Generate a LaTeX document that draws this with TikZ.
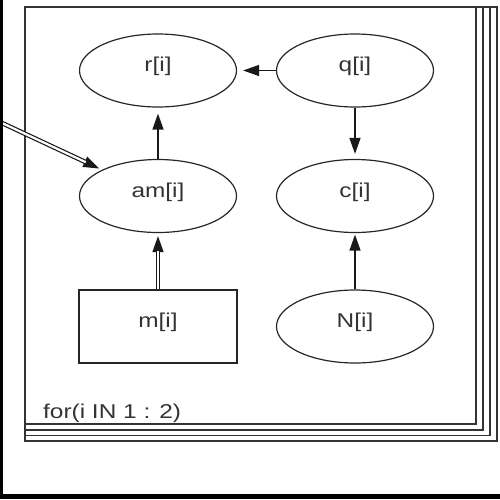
\documentclass[tikz,border=0pt]{standalone}
\usepackage{fontspec}
\newfontfamily\guifont[FakeStretch=1.22]{Liberation Sans}
\usetikzlibrary{arrows.meta,shapes.geometric}
\begin{document}
\begin{tikzpicture}[x=1pt,y=-1pt,
  ink/.style={draw=black!85},
  nodetext/.style={font=\guifont\fontsize{20}{23}\selectfont, text=black!80},
  varnode/.style={ellipse, ink, nodetext, line width=1.2pt, minimum width=157pt,
    minimum height=73pt, inner sep=0pt, text height=14pt, text depth=12pt},
  datanode/.style={rectangle, ink, nodetext, line width=1.2pt, minimum width=158pt,
    minimum height=73pt, inner sep=0pt, text height=14pt, text depth=12pt},
  platebox/.style={draw=black!80, line width=1.2pt},
  arr/.style={draw=black!90, line width=1.3pt, -{Triangle[length=16pt,width=11pt]}},
  dbl/.style={draw=black!90, line width=1.2pt, double=white, double distance=2.2pt},
]
\useasboundingbox (0,0) rectangle (500,499);

% stacked plate outline
\draw[platebox] (25,7) rectangle (497,441);
\draw[platebox] (25,7) rectangle (490,435.5);
\draw[platebox] (25,7) rectangle (483,430);
\draw[platebox] (25,7) rectangle (476,424);
\node[nodetext, anchor=base west, inner sep=0pt] (platelabel) at (43,418) {for(i IN 1 : 2)};

% variables
\node[varnode] (r)  at (158,70.5)  {r[i]};
\node[varnode] (q)  at (355,70.5)  {q[i]};
\node[varnode] (am) at (158,196)   {am[i]};
\node[varnode] (c)  at (355,196)   {c[i]};
\node[datanode] (m) at (158,326.5) {m[i]};
\node[varnode] (N)  at (355,326.5) {N[i]};
\coordinate (ext) at (2,123);

% single-line dependencies
\draw[arr, shorten >=6pt] (am) -- (r);
\draw[arr, shorten >=6pt] (q) -- (r);
\draw[arr, shorten >=5pt] (q) -- (c);
\draw[arr, shorten >=1.5pt] (N) -- (c);

% double-line (logical) dependencies: head first, then the double shaft on top
\draw[arr, shorten >=3pt] (m) -- (am);
\draw[dbl, shorten >=18pt] (m) -- (am);
\draw[arr, shorten >=3pt] (ext) -- (am);
\draw[dbl, shorten >=18pt] (ext) -- (am);

% window frame
\fill[black] (0,0) rectangle (2.7,499);
\fill[black] (0,493.5) rectangle (500,499);
\end{tikzpicture}
\end{document}
